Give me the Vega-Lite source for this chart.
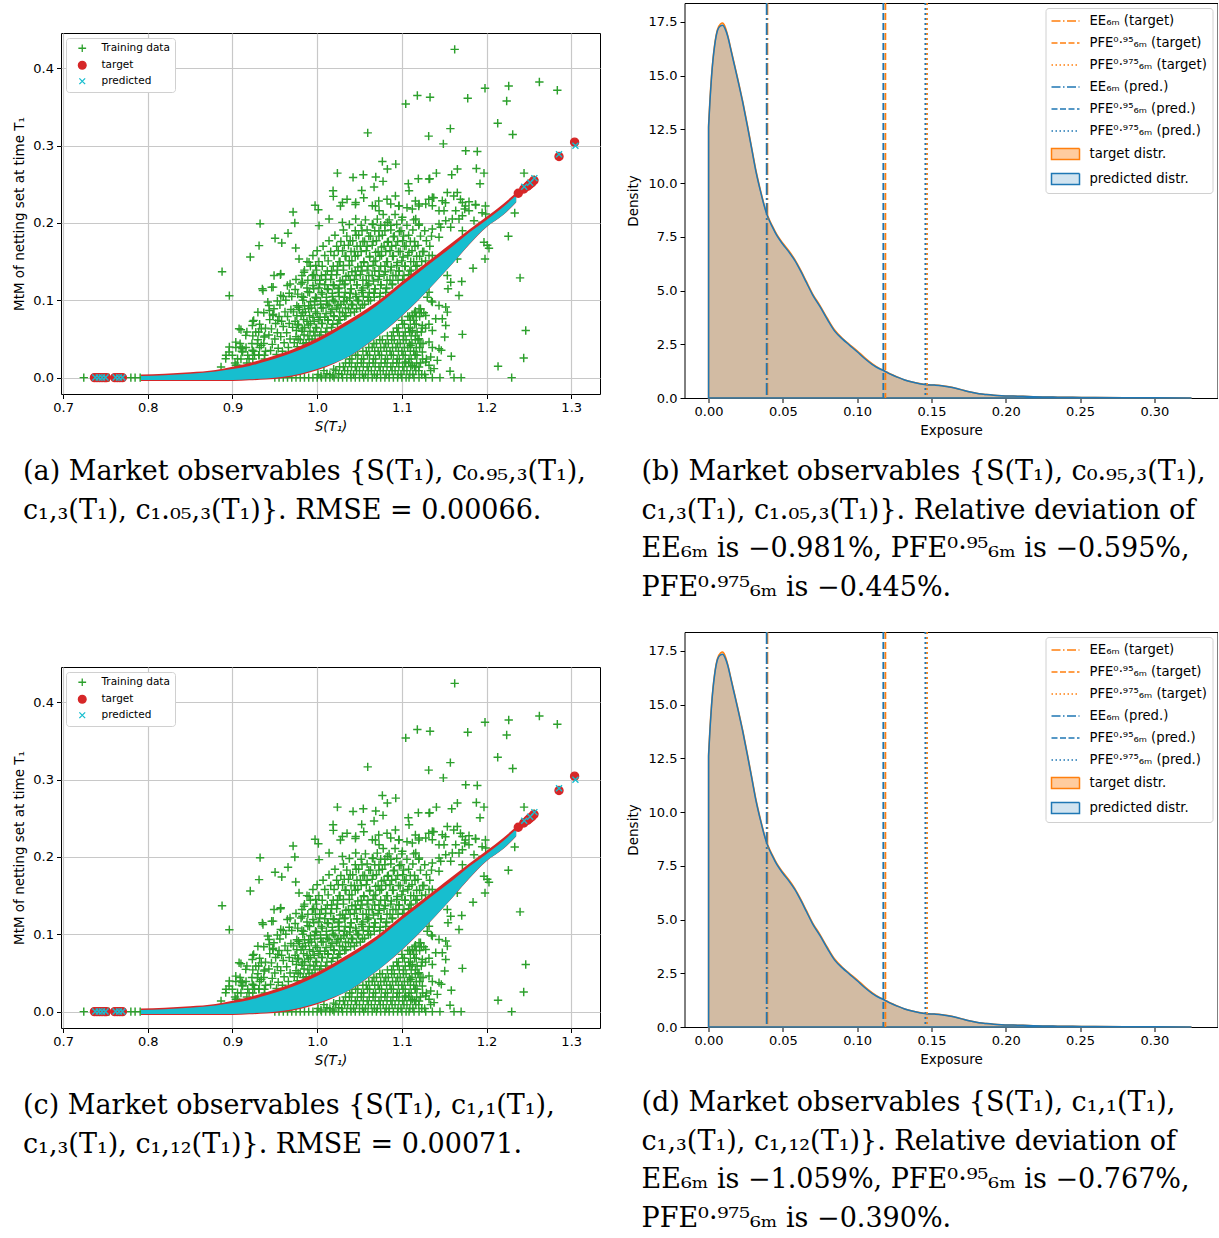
{
"$schema": "https://vega.github.io/schema/vega-lite/v6.json",
"background": "white",
"padding": {"left": 12, "top": 1, "right": 0, "bottom": 0},
"config": {
  "font": "DejaVu Sans",
  "view": {"stroke": "#000", "strokeWidth": 1},
  "axis": {"labelFont": "DejaVu Sans", "titleFont": "DejaVu Sans", "titleFontWeight": "normal", "domain": false, "tickColor": "#000", "tickWidth": 1, "labelColor": "#000", "titleColor": "#000"},
  "legend": {"labelFont": "DejaVu Sans", "labelColor": "#000"}
},
"datasets": {
  "train": [
{"x":0.945,"y":0.035},{"x":0.947,"y":0.043},{"x":0.943,"y":0.055},{"x":0.946,"y":0.063},{"x":0.944,"y":0.075},{"x":0.948,"y":0.082},
{"x":0.952,"y":0.030},{"x":0.954,"y":0.038},{"x":0.950,"y":0.050},{"x":0.953,"y":0.058},{"x":0.951,"y":0.070},{"x":0.955,"y":0.079},{"x":0.949,"y":0.089},{"x":0.953,"y":0.099},
{"x":0.959,"y":0.034},{"x":0.961,"y":0.045},{"x":0.957,"y":0.053},{"x":0.960,"y":0.066},{"x":0.958,"y":0.073},{"x":0.962,"y":0.085},{"x":0.956,"y":0.094},{"x":0.960,"y":0.105},
{"x":0.966,"y":0.039},{"x":0.968,"y":0.050},{"x":0.964,"y":0.058},{"x":0.967,"y":0.070},{"x":0.965,"y":0.079},{"x":0.969,"y":0.088},{"x":0.963,"y":0.100},{"x":0.967,"y":0.109},{"x":0.968,"y":0.121},
{"x":0.973,"y":0.045},{"x":0.975,"y":0.053},{"x":0.971,"y":0.065},{"x":0.974,"y":0.073},{"x":0.972,"y":0.085},{"x":0.976,"y":0.093},{"x":0.970,"y":0.105},{"x":0.974,"y":0.114},{"x":0.975,"y":0.127},
{"x":0.980,"y":0.049},{"x":0.982,"y":0.060},{"x":0.978,"y":0.068},{"x":0.981,"y":0.080},{"x":0.979,"y":0.088},{"x":0.983,"y":0.100},{"x":0.977,"y":0.108},{"x":0.981,"y":0.121},{"x":0.982,"y":0.132},
{"x":0.987,"y":0.045},{"x":0.989,"y":0.054},{"x":0.985,"y":0.065},{"x":0.988,"y":0.073},{"x":0.986,"y":0.085},{"x":0.990,"y":0.093},{"x":0.984,"y":0.104},{"x":0.988,"y":0.116},{"x":0.989,"y":0.126},{"x":0.985,"y":0.139},{"x":0.988,"y":0.150},
{"x":0.994,"y":0.050},{"x":0.996,"y":0.059},{"x":0.992,"y":0.070},{"x":0.995,"y":0.078},{"x":0.993,"y":0.090},{"x":0.997,"y":0.099},{"x":0.991,"y":0.110},{"x":0.995,"y":0.119},{"x":0.996,"y":0.133},{"x":0.992,"y":0.144},{"x":0.995,"y":0.158},
{"x":1.001,"y":0.004},{"x":1.003,"y":0.055},{"x":0.999,"y":0.064},{"x":1.002,"y":0.075},{"x":1.000,"y":0.083},{"x":1.004,"y":0.095},{"x":0.998,"y":0.104},{"x":1.002,"y":0.116},{"x":1.003,"y":0.126},{"x":0.999,"y":0.139},{"x":1.002,"y":0.150},{"x":1.000,"y":0.164},
{"x":1.008,"y":0.009},{"x":1.010,"y":0.059},{"x":1.006,"y":0.070},{"x":1.009,"y":0.078},{"x":1.007,"y":0.090},{"x":1.011,"y":0.099},{"x":1.005,"y":0.110},{"x":1.009,"y":0.120},{"x":1.010,"y":0.133},{"x":1.006,"y":0.144},{"x":1.009,"y":0.158},{"x":1.007,"y":0.170},
{"x":1.015,"y":0.004},{"x":1.017,"y":0.065},{"x":1.013,"y":0.074},{"x":1.016,"y":0.085},{"x":1.014,"y":0.093},{"x":1.018,"y":0.105},{"x":1.012,"y":0.115},{"x":1.016,"y":0.127},{"x":1.017,"y":0.138},{"x":1.013,"y":0.151},{"x":1.016,"y":0.163},{"x":1.014,"y":0.177},
{"x":1.022,"y":0.009},{"x":1.024,"y":0.070},{"x":1.020,"y":0.079},{"x":1.023,"y":0.090},{"x":1.021,"y":0.098},{"x":1.025,"y":0.110},{"x":1.019,"y":0.120},{"x":1.023,"y":0.133},{"x":1.024,"y":0.144},{"x":1.020,"y":0.158},{"x":1.023,"y":0.170},{"x":1.021,"y":0.184},
{"x":1.029,"y":0.004},{"x":1.031,"y":0.014},{"x":1.027,"y":0.075},{"x":1.030,"y":0.084},{"x":1.028,"y":0.095},{"x":1.032,"y":0.104},{"x":1.026,"y":0.116},{"x":1.030,"y":0.126},{"x":1.031,"y":0.139},{"x":1.027,"y":0.150},{"x":1.030,"y":0.164},{"x":1.028,"y":0.176},{"x":1.031,"y":0.191},
{"x":1.036,"y":0.009},{"x":1.038,"y":0.019},{"x":1.034,"y":0.080},{"x":1.037,"y":0.089},{"x":1.035,"y":0.100},{"x":1.039,"y":0.109},{"x":1.033,"y":0.121},{"x":1.037,"y":0.132},{"x":1.038,"y":0.145},{"x":1.034,"y":0.157},{"x":1.037,"y":0.171},{"x":1.035,"y":0.183},{"x":1.038,"y":0.198},
{"x":1.043,"y":0.004},{"x":1.045,"y":0.014},{"x":1.041,"y":0.024},{"x":1.044,"y":0.085},{"x":1.042,"y":0.094},{"x":1.046,"y":0.105},{"x":1.040,"y":0.115},{"x":1.044,"y":0.127},{"x":1.045,"y":0.138},{"x":1.041,"y":0.151},{"x":1.044,"y":0.163},{"x":1.042,"y":0.177},{"x":1.045,"y":0.190},
{"x":1.050,"y":0.009},{"x":1.052,"y":0.019},{"x":1.048,"y":0.029},{"x":1.051,"y":0.090},{"x":1.049,"y":0.099},{"x":1.053,"y":0.110},{"x":1.047,"y":0.120},{"x":1.051,"y":0.133},{"x":1.052,"y":0.144},{"x":1.048,"y":0.158},{"x":1.051,"y":0.170},{"x":1.049,"y":0.184},{"x":1.052,"y":0.197},
{"x":1.057,"y":0.004},{"x":1.059,"y":0.014},{"x":1.055,"y":0.024},{"x":1.058,"y":0.034},{"x":1.056,"y":0.095},{"x":1.060,"y":0.104},{"x":1.054,"y":0.116},{"x":1.058,"y":0.126},{"x":1.059,"y":0.139},{"x":1.055,"y":0.150},{"x":1.058,"y":0.164},{"x":1.056,"y":0.176},{"x":1.059,"y":0.191},{"x":1.057,"y":0.204},
{"x":1.064,"y":0.009},{"x":1.066,"y":0.019},{"x":1.062,"y":0.029},{"x":1.065,"y":0.039},{"x":1.063,"y":0.100},{"x":1.067,"y":0.109},{"x":1.061,"y":0.121},{"x":1.065,"y":0.132},{"x":1.066,"y":0.145},{"x":1.062,"y":0.157},{"x":1.065,"y":0.171},{"x":1.063,"y":0.183},{"x":1.066,"y":0.198},
{"x":1.071,"y":0.004},{"x":1.073,"y":0.014},{"x":1.069,"y":0.024},{"x":1.072,"y":0.034},{"x":1.070,"y":0.044},{"x":1.074,"y":0.105},{"x":1.068,"y":0.115},{"x":1.072,"y":0.127},{"x":1.073,"y":0.138},{"x":1.069,"y":0.151},{"x":1.072,"y":0.163},{"x":1.070,"y":0.177},{"x":1.073,"y":0.190},{"x":1.071,"y":0.205},
{"x":1.078,"y":0.009},{"x":1.080,"y":0.019},{"x":1.076,"y":0.029},{"x":1.079,"y":0.039},{"x":1.077,"y":0.049},{"x":1.081,"y":0.110},{"x":1.075,"y":0.120},{"x":1.079,"y":0.133},{"x":1.080,"y":0.144},{"x":1.076,"y":0.158},{"x":1.079,"y":0.170},{"x":1.077,"y":0.184},{"x":1.080,"y":0.197},{"x":1.078,"y":0.211},
{"x":1.085,"y":0.004},{"x":1.087,"y":0.014},{"x":1.083,"y":0.024},{"x":1.086,"y":0.034},{"x":1.084,"y":0.044},{"x":1.088,"y":0.054},{"x":1.082,"y":0.116},{"x":1.086,"y":0.126},{"x":1.087,"y":0.139},{"x":1.083,"y":0.150},{"x":1.086,"y":0.164},{"x":1.084,"y":0.176},{"x":1.087,"y":0.191},{"x":1.085,"y":0.204},
{"x":1.092,"y":0.009},{"x":1.094,"y":0.019},{"x":1.090,"y":0.029},{"x":1.093,"y":0.039},{"x":1.091,"y":0.049},{"x":1.095,"y":0.059},{"x":1.089,"y":0.121},{"x":1.093,"y":0.132},{"x":1.094,"y":0.145},{"x":1.090,"y":0.157},{"x":1.093,"y":0.171},{"x":1.091,"y":0.183},{"x":1.094,"y":0.198},{"x":1.092,"y":0.211},
{"x":1.099,"y":0.004},{"x":1.101,"y":0.014},{"x":1.097,"y":0.024},{"x":1.100,"y":0.034},{"x":1.098,"y":0.044},{"x":1.102,"y":0.054},{"x":1.096,"y":0.064},{"x":1.100,"y":0.074},{"x":1.101,"y":0.127},{"x":1.097,"y":0.138},{"x":1.100,"y":0.151},{"x":1.098,"y":0.163},{"x":1.101,"y":0.177},{"x":1.099,"y":0.190},{"x":1.100,"y":0.204},
{"x":1.106,"y":0.009},{"x":1.108,"y":0.019},{"x":1.104,"y":0.029},{"x":1.107,"y":0.039},{"x":1.105,"y":0.049},{"x":1.109,"y":0.059},{"x":1.103,"y":0.069},{"x":1.107,"y":0.079},{"x":1.108,"y":0.133},{"x":1.104,"y":0.144},{"x":1.107,"y":0.158},{"x":1.105,"y":0.170},{"x":1.108,"y":0.184},{"x":1.106,"y":0.197},
{"x":1.113,"y":0.004},{"x":1.115,"y":0.014},{"x":1.111,"y":0.024},{"x":1.114,"y":0.034},{"x":1.112,"y":0.044},{"x":1.116,"y":0.054},{"x":1.110,"y":0.064},{"x":1.114,"y":0.074},{"x":1.115,"y":0.084},{"x":1.111,"y":0.139},{"x":1.114,"y":0.150},{"x":1.112,"y":0.164},{"x":1.115,"y":0.176},{"x":1.113,"y":0.191},{"x":1.114,"y":0.204},
{"x":1.120,"y":0.009},{"x":1.122,"y":0.019},{"x":1.118,"y":0.029},{"x":1.121,"y":0.039},{"x":1.119,"y":0.049},{"x":1.123,"y":0.059},{"x":1.117,"y":0.069},{"x":1.121,"y":0.079},{"x":1.122,"y":0.089},{"x":1.118,"y":0.145},{"x":1.121,"y":0.157},{"x":1.119,"y":0.171},{"x":1.122,"y":0.183},{"x":1.120,"y":0.197},
{"x":1.127,"y":0.004},{"x":1.129,"y":0.024},{"x":1.125,"y":0.044},{"x":1.128,"y":0.064},{"x":1.126,"y":0.084},{"x":1.130,"y":0.104},{"x":1.128,"y":0.151},{"x":1.126,"y":0.163},{"x":1.129,"y":0.177},{"x":1.127,"y":0.190},
{"x":1.134,"y":0.009},{"x":1.136,"y":0.039},{"x":1.132,"y":0.069},{"x":1.135,"y":0.099},{"x":1.136,"y":0.158},{"x":1.133,"y":0.170},{"x":1.135,"y":0.183},
{"x":0.9765,"y":0.040},{"x":0.9775,"y":0.050},{"x":0.9755,"y":0.061},{"x":0.977,"y":0.069},{"x":0.976,"y":0.080},{"x":0.978,"y":0.091},
{"x":0.9835,"y":0.044},{"x":0.9845,"y":0.055},{"x":0.9825,"y":0.063},{"x":0.984,"y":0.075},{"x":0.983,"y":0.084},{"x":0.985,"y":0.093},{"x":0.982,"y":0.105},
{"x":0.9905,"y":0.049},{"x":0.9915,"y":0.060},{"x":0.9895,"y":0.068},{"x":0.991,"y":0.080},{"x":0.990,"y":0.089},{"x":0.992,"y":0.098},{"x":0.989,"y":0.111},
{"x":0.9975,"y":0.054},{"x":0.9985,"y":0.065},{"x":0.9965,"y":0.073},{"x":0.998,"y":0.085},{"x":0.997,"y":0.094},{"x":0.999,"y":0.103},{"x":0.996,"y":0.115},{"x":0.998,"y":0.126},
{"x":1.0045,"y":0.002},{"x":1.0045,"y":0.059},{"x":1.0055,"y":0.070},{"x":1.0035,"y":0.078},{"x":1.005,"y":0.090},{"x":1.004,"y":0.099},{"x":1.006,"y":0.108},{"x":1.003,"y":0.121},{"x":1.005,"y":0.132},
{"x":1.0115,"y":0.005},{"x":1.0115,"y":0.064},{"x":1.0125,"y":0.075},{"x":1.0105,"y":0.083},{"x":1.012,"y":0.095},{"x":1.011,"y":0.104},{"x":1.013,"y":0.114},{"x":1.010,"y":0.127},{"x":1.012,"y":0.138},
{"x":1.0185,"y":0.002},{"x":1.0195,"y":0.011},{"x":1.0185,"y":0.069},{"x":1.0195,"y":0.080},{"x":1.0175,"y":0.088},{"x":1.019,"y":0.100},{"x":1.018,"y":0.109},{"x":1.020,"y":0.119},{"x":1.017,"y":0.133},{"x":1.019,"y":0.144},
{"x":1.0255,"y":0.005},{"x":1.0265,"y":0.014},{"x":1.0255,"y":0.074},{"x":1.0265,"y":0.085},{"x":1.0245,"y":0.093},{"x":1.026,"y":0.105},{"x":1.025,"y":0.115},{"x":1.027,"y":0.125},{"x":1.024,"y":0.139},{"x":1.026,"y":0.150},{"x":1.025,"y":0.164},
{"x":1.0325,"y":0.009},{"x":1.0335,"y":0.019},{"x":1.0325,"y":0.079},{"x":1.0335,"y":0.090},{"x":1.0315,"y":0.098},{"x":1.033,"y":0.110},{"x":1.032,"y":0.120},{"x":1.034,"y":0.131},{"x":1.031,"y":0.145},{"x":1.033,"y":0.157},{"x":1.032,"y":0.171},
{"x":1.0395,"y":0.004},{"x":1.0405,"y":0.014},{"x":1.0385,"y":0.024},{"x":1.0395,"y":0.084},{"x":1.0405,"y":0.095},{"x":1.0385,"y":0.103},{"x":1.040,"y":0.115},{"x":1.039,"y":0.126},{"x":1.041,"y":0.137},{"x":1.038,"y":0.151},{"x":1.040,"y":0.163},{"x":1.039,"y":0.177},
{"x":1.0465,"y":0.009},{"x":1.0475,"y":0.019},{"x":1.0455,"y":0.029},{"x":1.0465,"y":0.089},{"x":1.0475,"y":0.100},{"x":1.0455,"y":0.108},{"x":1.047,"y":0.120},{"x":1.046,"y":0.132},{"x":1.048,"y":0.143},{"x":1.045,"y":0.157},{"x":1.047,"y":0.170},{"x":1.046,"y":0.184},
{"x":1.0535,"y":0.004},{"x":1.0545,"y":0.014},{"x":1.0525,"y":0.024},{"x":1.054,"y":0.034},{"x":1.0535,"y":0.094},{"x":1.0545,"y":0.105},{"x":1.0525,"y":0.113},{"x":1.054,"y":0.126},{"x":1.053,"y":0.138},{"x":1.055,"y":0.149},{"x":1.052,"y":0.163},{"x":1.054,"y":0.176},{"x":1.053,"y":0.190},
{"x":1.0605,"y":0.009},{"x":1.0615,"y":0.019},{"x":1.0595,"y":0.029},{"x":1.061,"y":0.039},{"x":1.0605,"y":0.099},{"x":1.0615,"y":0.110},{"x":1.0595,"y":0.119},{"x":1.061,"y":0.132},{"x":1.060,"y":0.144},{"x":1.062,"y":0.156},{"x":1.059,"y":0.170},{"x":1.061,"y":0.183},
{"x":1.0675,"y":0.004},{"x":1.0685,"y":0.014},{"x":1.0665,"y":0.024},{"x":1.068,"y":0.034},{"x":1.067,"y":0.044},{"x":1.0675,"y":0.104},{"x":1.0685,"y":0.115},{"x":1.0665,"y":0.125},{"x":1.068,"y":0.138},{"x":1.067,"y":0.150},{"x":1.069,"y":0.162},{"x":1.066,"y":0.176},{"x":1.068,"y":0.190},
{"x":1.0745,"y":0.009},{"x":1.0755,"y":0.019},{"x":1.0735,"y":0.029},{"x":1.075,"y":0.039},{"x":1.074,"y":0.049},{"x":1.0745,"y":0.109},{"x":1.0755,"y":0.120},{"x":1.0735,"y":0.131},{"x":1.075,"y":0.144},{"x":1.074,"y":0.157},{"x":1.076,"y":0.169},{"x":1.073,"y":0.183},{"x":1.075,"y":0.197},
{"x":1.0815,"y":0.004},{"x":1.0825,"y":0.014},{"x":1.0805,"y":0.024},{"x":1.082,"y":0.034},{"x":1.081,"y":0.044},{"x":1.083,"y":0.054},{"x":1.0815,"y":0.115},{"x":1.0825,"y":0.126},{"x":1.0805,"y":0.137},{"x":1.082,"y":0.150},{"x":1.081,"y":0.163},{"x":1.083,"y":0.175},{"x":1.080,"y":0.190},
{"x":1.0885,"y":0.009},{"x":1.0895,"y":0.019},{"x":1.0875,"y":0.029},{"x":1.089,"y":0.039},{"x":1.088,"y":0.049},{"x":1.090,"y":0.059},{"x":1.0885,"y":0.120},{"x":1.0895,"y":0.132},{"x":1.0875,"y":0.143},{"x":1.089,"y":0.157},{"x":1.088,"y":0.170},{"x":1.090,"y":0.182},{"x":1.087,"y":0.197},
{"x":1.0955,"y":0.004},{"x":1.0965,"y":0.014},{"x":1.0945,"y":0.024},{"x":1.096,"y":0.034},{"x":1.095,"y":0.044},{"x":1.097,"y":0.054},{"x":1.094,"y":0.064},{"x":1.0955,"y":0.126},{"x":1.0965,"y":0.138},{"x":1.0945,"y":0.149},{"x":1.096,"y":0.163},{"x":1.095,"y":0.176},{"x":1.097,"y":0.189},
{"x":1.1025,"y":0.009},{"x":1.1035,"y":0.019},{"x":1.1015,"y":0.029},{"x":1.103,"y":0.039},{"x":1.102,"y":0.049},{"x":1.104,"y":0.059},{"x":1.101,"y":0.069},{"x":1.1025,"y":0.132},{"x":1.1035,"y":0.144},{"x":1.1015,"y":0.156},{"x":1.103,"y":0.170},{"x":1.102,"y":0.183},
{"x":1.1095,"y":0.004},{"x":1.1105,"y":0.014},{"x":1.1085,"y":0.024},{"x":1.110,"y":0.034},{"x":1.109,"y":0.044},{"x":1.111,"y":0.054},{"x":1.108,"y":0.064},{"x":1.110,"y":0.074},{"x":1.109,"y":0.079},{"x":1.1095,"y":0.138},{"x":1.1105,"y":0.150},{"x":1.1085,"y":0.162},{"x":1.110,"y":0.176},
{"x":1.1165,"y":0.009},{"x":1.1175,"y":0.019},{"x":1.1155,"y":0.029},{"x":1.117,"y":0.039},{"x":1.116,"y":0.049},{"x":1.118,"y":0.059},{"x":1.115,"y":0.069},{"x":1.117,"y":0.079},{"x":1.116,"y":0.086},{"x":1.1165,"y":0.144},{"x":1.1175,"y":0.157},{"x":1.1155,"y":0.170},
{"x":1.1235,"y":0.004},{"x":1.1245,"y":0.024},{"x":1.1225,"y":0.044},{"x":1.124,"y":0.064},{"x":1.123,"y":0.084},{"x":1.1235,"y":0.150},{"x":1.1245,"y":0.163},
{"x":0.903,"y":0.019},{"x":0.904,"y":0.039},{"x":0.910,"y":0.024},{"x":0.911,"y":0.034},{"x":0.909,"y":0.044},
{"x":0.917,"y":0.019},{"x":0.918,"y":0.029},{"x":0.916,"y":0.039},{"x":0.917,"y":0.059},
{"x":0.924,"y":0.024},{"x":0.925,"y":0.034},{"x":0.923,"y":0.044},{"x":0.924,"y":0.054},{"x":0.925,"y":0.074},
{"x":0.931,"y":0.029},{"x":0.932,"y":0.039},{"x":0.930,"y":0.049},{"x":0.931,"y":0.059},{"x":0.932,"y":0.069},
{"x":0.938,"y":0.024},{"x":0.939,"y":0.034},{"x":0.937,"y":0.044},{"x":0.938,"y":0.054},{"x":0.939,"y":0.064},{"x":0.937,"y":0.084},
{"x":0.7244,"y":0},{"x":0.754,"y":0},{"x":0.78,"y":0},{"x":0.785,"y":0},{"x":0.791,"y":0},
{"x":0.95,"y":0},{"x":0.955,"y":0},{"x":0.96,"y":0},{"x":0.965,"y":0},{"x":0.97,"y":0},{"x":0.975,"y":0},{"x":0.98,"y":0},{"x":0.985,"y":0},{"x":0.99,"y":0},{"x":0.995,"y":0},{"x":1.0,"y":0},{"x":1.005,"y":0},{"x":1.01,"y":0},{"x":1.015,"y":0},{"x":1.02,"y":0},{"x":1.025,"y":0},{"x":1.03,"y":0},{"x":1.035,"y":0},{"x":1.04,"y":0},{"x":1.045,"y":0},{"x":1.05,"y":0},{"x":1.055,"y":0},{"x":1.06,"y":0},{"x":1.065,"y":0},{"x":1.07,"y":0},{"x":1.075,"y":0},{"x":1.08,"y":0},{"x":1.085,"y":0},{"x":1.09,"y":0},{"x":1.095,"y":0},{"x":1.1,"y":0},{"x":1.105,"y":0},
{"x":1.1085,"y":0},{"x":1.1144,"y":0},{"x":1.1203,"y":0},{"x":1.1282,"y":0},{"x":1.136,"y":0},{"x":1.145,"y":0},{"x":1.1616,"y":0},{"x":1.17,"y":0},{"x":1.2297,"y":0},
{"x":0.8877,"y":0.137},{"x":0.8963,"y":0.106},{"x":0.921,"y":0.156},{"x":0.8865,"y":0.0138},{"x":0.904,"y":0.016},{"x":0.8924,"y":0.0288},{"x":0.8963,"y":0.0396},{"x":0.91,"y":0.0396},{"x":0.912,"y":0.033},{"x":0.906,"y":0.0245},{"x":0.91,"y":0.062},{"x":0.924,"y":0.0727},{"x":0.93,"y":0.0846},{"x":0.934,"y":0.063},{"x":0.936,"y":0.1126},{"x":0.948,"y":0.117},{"x":0.9566,"y":0.133},{"x":0.9417,"y":0.0977},{"x":0.9436,"y":0.0868},{"x":0.9476,"y":0.0804},{"x":0.9535,"y":0.074},{"x":0.934,"y":0.0417},{"x":0.9377,"y":0.0288},{"x":0.926,"y":0.0288},
{"x":1.1624,"y":0.4245},{"x":1.1046,"y":0.354},{"x":1.1183,"y":0.3648},{"x":1.1333,"y":0.3626},{"x":1.1778,"y":0.3613},{"x":1.1982,"y":0.3742},{"x":1.2262,"y":0.3772},{"x":1.2238,"y":0.3578},{"x":1.2624,"y":0.3823},{"x":1.2836,"y":0.3716},{"x":1.0597,"y":0.3165},{"x":1.1317,"y":0.3123},{"x":1.1573,"y":0.322},{"x":1.149,"y":0.3023},{"x":1.2132,"y":0.329},{"x":1.2309,"y":0.3144},{"x":1.1754,"y":0.2933},{"x":1.1891,"y":0.2925},{"x":1.077,"y":0.2795},{"x":1.0928,"y":0.2761},{"x":1.0829,"y":0.2697},{"x":1.0239,"y":0.2645},{"x":1.0424,"y":0.2589},{"x":1.0545,"y":0.2623},{"x":1.0692,"y":0.2594},{"x":1.0778,"y":0.2538},{"x":1.0672,"y":0.2465},{"x":1.1077,"y":0.2508},{"x":1.1195,"y":0.2572},{"x":1.1329,"y":0.2572},{"x":1.1408,"y":0.2645},{"x":1.1656,"y":0.2697},{"x":1.1589,"y":0.2623},{"x":1.188,"y":0.2705},{"x":1.197,"y":0.2645},{"x":1.1923,"y":0.2508},{"x":1.2443,"y":0.2645},{"x":1.2562,"y":0.2559},{"x":1.2333,"y":0.2129},{"x":1.0188,"y":0.2417},{"x":1.0526,"y":0.2421},{"x":1.0191,"y":0.2344},{"x":0.9975,"y":0.2228},{"x":1.0014,"y":0.2172},{"x":0.9716,"y":0.2142},{"x":0.9736,"y":0.2},{"x":0.9326,"y":0.1991},
{"x":1.2258,"y":0.1828},{"x":1.2029,"y":0.1673},{"x":1.1982,"y":0.1535},{"x":1.2009,"y":0.1712},{"x":1.1841,"y":0.1414},{"x":1.2396,"y":0.129},{"x":1.1707,"y":0.1243},{"x":1.1675,"y":0.1062},{"x":1.1545,"y":0.1148},{"x":1.1518,"y":0.0912},{"x":1.1537,"y":0.0847},{"x":1.2463,"y":0.061},{"x":1.1715,"y":0.0559},{"x":1.1506,"y":0.0525},{"x":1.1466,"y":0.0353},{"x":1.1584,"y":0.0275},{"x":1.1341,"y":0.0266},{"x":1.1321,"y":0.0159},{"x":1.138,"y":0.0116},{"x":1.1569,"y":0.0082},{"x":1.2439,"y":0.0254},{"x":1.2136,"y":0.0146},
{"x":1.1537,"y":0.2393},{"x":1.1655,"y":0.2393},{"x":1.1321,"y":0.2568},{"x":1.1085,"y":0.2417},{"x":1.136,"y":0.233},{"x":1.1282,"y":0.2245},{"x":1.1439,"y":0.2159},{"x":1.1498,"y":0.2159},{"x":1.1636,"y":0.2159},{"x":1.1742,"y":0.2181},{"x":1.1793,"y":0.2275},{"x":1.1872,"y":0.2232},{"x":1.1675,"y":0.2052},{"x":1.1715,"y":0.2094},{"x":1.199,"y":0.2116},{"x":1.1518,"y":0.203},{"x":1.1577,"y":0.1944},{"x":1.1459,"y":0.1944},{"x":1.1439,"y":0.1815},{"x":1.1715,"y":0.19},{"x":1.136,"y":0.1923},{"x":1.1203,"y":0.1987},{"x":1.1852,"y":0.203},{"x":1.1872,"y":0.1923},{"x":1.197,"y":0.175},{"x":1.1912,"y":0.1966},{"x":1.1596,"y":0.1621},{"x":1.1655,"y":0.1535},{"x":1.1478,"y":0.1578},{"x":1.1518,"y":0.1492},{"x":1.14,"y":0.1449},{"x":1.1321,"y":0.1578},{"x":1.1301,"y":0.1428},{"x":1.1537,"y":0.132},{"x":1.1577,"y":0.1234},
{"x":1.1321,"y":0.1105},{"x":1.136,"y":0.0976},{"x":1.1439,"y":0.0933},{"x":1.1203,"y":0.089},{"x":1.1124,"y":0.0804},{"x":1.1282,"y":0.0804},{"x":1.14,"y":0.0761},{"x":1.1478,"y":0.0761},{"x":1.1518,"y":0.0675},{"x":1.1242,"y":0.0675},{"x":1.136,"y":0.061},{"x":1.1124,"y":0.061},{"x":1.1203,"y":0.0503},{"x":1.1321,"y":0.046},{"x":1.1104,"y":0.0417},{"x":1.1164,"y":0.0288},{"x":1.1242,"y":0.033},{"x":1.1439,"y":0.0374},{"x":1.1124,"y":0.0159},{"x":1.1203,"y":0.0138},{"x":1.1046,"y":0.0201},{"x":1.1282,"y":0.0201},{"x":1.1419,"y":0.0223},
{"x":0.9503,"y":0.1802},{"x":0.9582,"y":0.1742},{"x":0.9656,"y":0.1867},{"x":0.9747,"y":0.1677},{"x":0.9314,"y":0.1707},{"x":0.9491,"y":0.132},{"x":0.957,"y":0.1342},{"x":0.9353,"y":0.1148},{"x":0.9463,"y":0.1169},{"x":0.9648,"y":0.1191},{"x":0.9432,"y":0.0933},{"x":0.957,"y":0.1062},{"x":0.9786,"y":0.1535},{"x":0.9904,"y":0.1492},{"x":0.9845,"y":0.1363},{"x":0.9983,"y":0.1449},{"x":0.9943,"y":0.132},{"x":0.9825,"y":0.1234},
{"x":1.0298,"y":0.2266},{"x":1.0455,"y":0.2266},{"x":1.0652,"y":0.2224},{"x":1.0731,"y":0.2159},{"x":1.0869,"y":0.2245},{"x":1.0967,"y":0.2224},{"x":1.1124,"y":0.2181},{"x":1.1203,"y":0.2245},{"x":1.136,"y":0.2224},{"x":1.1478,"y":0.2288},{"x":1.1715,"y":0.2266},{"x":1.1793,"y":0.2159},{"x":1.1596,"y":0.2052},{"x":1.1439,"y":0.1987},{"x":1.1164,"y":0.2052},{"x":1.1006,"y":0.2073},{"x":1.0829,"y":0.2008},{"x":1.0652,"y":0.1987},{"x":1.0455,"y":0.2052},{"x":1.0298,"y":0.2008},{"x":1.0141,"y":0.2052},{"x":1.0022,"y":0.1966},
{"x":1.0275,"y":0.222},{"x":1.0353,"y":0.2306},{"x":1.0452,"y":0.224},{"x":1.055,"y":0.2326},{"x":1.0688,"y":0.222},{"x":1.0727,"y":0.2284},{"x":1.0825,"y":0.2306},{"x":1.0924,"y":0.2349},{"x":1.0963,"y":0.222},{"x":1.1061,"y":0.2198},{"x":1.116,"y":0.2284},{"x":1.12,"y":0.222},{"x":1.1318,"y":0.2306},{"x":1.1377,"y":0.2326},{"x":1.1515,"y":0.2262},{"x":1.1613,"y":0.2349},{"x":1.1692,"y":0.2306},{"x":1.1751,"y":0.222},{"x":1.1869,"y":0.224},{"x":1.1948,"y":0.2133},{"x":1.1987,"y":0.222},
{"x":0.9078,"y":0.0632},{"x":0.9157,"y":0.0546},{"x":0.9235,"y":0.0675},{"x":0.9275,"y":0.0589},{"x":0.9039,"y":0.0459},{"x":0.9117,"y":0.0374},{"x":0.896,"y":0.033},{"x":0.8999,"y":0.0288},{"x":0.892,"y":0.0245},{"x":0.9058,"y":0.0159},{"x":0.9235,"y":0.0353},{"x":0.9294,"y":0.0439},{"x":0.9373,"y":0.0525},{"x":0.9196,"y":0.0245},{"x":0.9314,"y":0.0288}
  ],
  "band": [
{"x":0.792,"pl":-0.003,"pu":0.002,"tl":-0.0045,"tu":0.004},
{"x":0.82,"pl":-0.003,"pu":0.003,"tl":-0.0045,"tu":0.005},
{"x":0.85,"pl":-0.003,"pu":0.005,"tl":-0.0045,"tu":0.007},
{"x":0.88,"pl":-0.003,"pu":0.008,"tl":-0.0045,"tu":0.010},
{"x":0.90,"pl":-0.003,"pu":0.011,"tl":-0.0045,"tu":0.014},
{"x":0.92,"pl":-0.002,"pu":0.015,"tl":-0.0035,"tu":0.019},
{"x":0.94,"pl":-0.001,"pu":0.021,"tl":-0.0025,"tu":0.025},
{"x":0.96,"pl":0.001,"pu":0.028,"tl":-0.0005,"tu":0.032},
{"x":0.98,"pl":0.005,"pu":0.036,"tl":0.0035,"tu":0.041},
{"x":1.00,"pl":0.011,"pu":0.046,"tl":0.0095,"tu":0.051},
{"x":1.02,"pl":0.019,"pu":0.058,"tl":0.018,"tu":0.063},
{"x":1.04,"pl":0.029,"pu":0.071,"tl":0.0285,"tu":0.076},
{"x":1.06,"pl":0.044,"pu":0.085,"tl":0.0435,"tu":0.090},
{"x":1.08,"pl":0.061,"pu":0.101,"tl":0.0605,"tu":0.106},
{"x":1.10,"pl":0.080,"pu":0.119,"tl":0.0795,"tu":0.124},
{"x":1.12,"pl":0.101,"pu":0.136,"tl":0.1005,"tu":0.141},
{"x":1.14,"pl":0.124,"pu":0.153,"tl":0.1235,"tu":0.158},
{"x":1.16,"pl":0.148,"pu":0.170,"tl":0.1475,"tu":0.175},
{"x":1.18,"pl":0.173,"pu":0.188,"tl":0.1725,"tu":0.192},
{"x":1.20,"pl":0.195,"pu":0.204,"tl":0.1945,"tu":0.208},
{"x":1.22,"pl":0.211,"pu":0.221,"tl":0.2105,"tu":0.225},
{"x":1.235,"pl":0.227,"pu":0.236,"tl":0.2265,"tu":0.239}
  ],
  "tdot": [
{"x":0.737,"y":0},{"x":0.740,"y":0},{"x":0.743,"y":0},{"x":0.746,"y":0},{"x":0.749,"y":0},{"x":0.751,"y":0},{"x":0.761,"y":0},{"x":0.764,"y":0},{"x":0.767,"y":0},{"x":0.770,"y":0},
{"x":1.2375,"y":0.2385},{"x":1.244,"y":0.244},{"x":1.2485,"y":0.2475},{"x":1.251,"y":0.25},{"x":1.2535,"y":0.252},{"x":1.256,"y":0.255},{"x":1.2856,"y":0.286},{"x":1.304,"y":0.3045}
  ],
  "pdot": [
{"x":0.738,"y":0},{"x":0.742,"y":0},{"x":0.746,"y":0},{"x":0.750,"y":0},{"x":0.762,"y":0},{"x":0.766,"y":0},{"x":0.770,"y":0},
{"x":1.2445,"y":0.247},{"x":1.2515,"y":0.252},{"x":1.2565,"y":0.258},{"x":1.2856,"y":0.289},{"x":1.305,"y":0.300}
  ],
  "dens": [
{"x":0,"t":12.7,"p":12.6},{"x":0.001,"t":14.0,"p":13.9},{"x":0.002,"t":15.0,"p":14.95},{"x":0.003,"t":15.8,"p":15.75},{"x":0.004,"t":16.4,"p":16.35},{"x":0.005,"t":16.85,"p":16.8},{"x":0.006,"t":17.15,"p":17.1},{"x":0.008,"t":17.4,"p":17.32},{"x":0.0095,"t":17.45,"p":17.35},{"x":0.011,"t":17.3,"p":17.2},{"x":0.013,"t":16.85,"p":16.8},{"x":0.015,"t":16.25,"p":16.2},{"x":0.017,"t":15.65,"p":15.6},{"x":0.020,"t":14.75,"p":14.7},{"x":0.023,"t":13.8,"p":13.75},{"x":0.026,"t":12.75,"p":12.7},{"x":0.029,"t":11.65,"p":11.6},{"x":0.032,"t":10.55,"p":10.5},{"x":0.035,"t":9.65,"p":9.6},{"x":0.038,"t":8.85,"p":8.8},{"x":0.040,"t":8.45,"p":8.4},{"x":0.043,"t":8.0,"p":7.95},{"x":0.046,"t":7.6,"p":7.55},{"x":0.050,"t":7.2,"p":7.15},{"x":0.054,"t":6.85,"p":6.8},{"x":0.058,"t":6.45,"p":6.4},{"x":0.062,"t":5.95,"p":5.9},{"x":0.066,"t":5.4,"p":5.35},{"x":0.070,"t":4.85,"p":4.8},{"x":0.075,"t":4.3,"p":4.25},{"x":0.080,"t":3.7,"p":3.65},{"x":0.085,"t":3.15,"p":3.1},{"x":0.090,"t":2.78,"p":2.75},{"x":0.095,"t":2.48,"p":2.45},{"x":0.100,"t":2.2,"p":2.15},{"x":0.105,"t":1.88,"p":1.84},{"x":0.110,"t":1.6,"p":1.57},{"x":0.115,"t":1.38,"p":1.36},{"x":0.118,"t":1.28,"p":1.27},{"x":0.122,"t":1.13,"p":1.12},{"x":0.127,"t":0.98,"p":0.97},{"x":0.132,"t":0.84,"p":0.84},{"x":0.137,"t":0.74,"p":0.74},{"x":0.142,"t":0.67,"p":0.66},{"x":0.147,"t":0.62,"p":0.62},{"x":0.152,"t":0.6,"p":0.6},{"x":0.157,"t":0.57,"p":0.57},{"x":0.162,"t":0.52,"p":0.51},{"x":0.167,"t":0.44,"p":0.44},{"x":0.172,"t":0.35,"p":0.35},{"x":0.177,"t":0.27,"p":0.27},{"x":0.182,"t":0.2,"p":0.2},{"x":0.187,"t":0.16,"p":0.16},{"x":0.192,"t":0.13,"p":0.13},{"x":0.197,"t":0.11,"p":0.11},{"x":0.205,"t":0.09,"p":0.09},{"x":0.215,"t":0.07,"p":0.07},{"x":0.225,"t":0.05,"p":0.05},{"x":0.235,"t":0.04,"p":0.04},{"x":0.245,"t":0.03,"p":0.03},{"x":0.26,"t":0.02,"p":0.02},{"x":0.28,"t":0.012,"p":0.012},{"x":0.30,"t":0.006,"p":0.006},{"x":0.325,"t":0.0,"p":0.0}
  ],
  "vl": [
{"x":0.0396,"s":"EE₆ₘ (target)"},{"x":0.1190,"s":"PFE⁰·⁹⁵₆ₘ (target)"},{"x":0.1470,"s":"PFE⁰·⁹⁷⁵₆ₘ (target)"},
{"x":0.0391,"s":"EE₆ₘ (pred.)"},{"x":0.1176,"s":"PFE⁰·⁹⁵₆ₘ (pred.)"},{"x":0.1459,"s":"PFE⁰·⁹⁷⁵₆ₘ (pred.)"}
  ]
},
"spacing": 24.5,
"resolve": {"scale": {"color": "independent", "fill": "independent", "stroke": "independent", "shape": "independent", "strokeDash": "independent"}},
"hconcat": [
 {
  "spacing": 141,
  "resolve": {"scale": {"color": "independent", "fill": "independent", "stroke": "independent", "shape": "independent", "strokeDash": "independent"}},
  "vconcat": [
   {
    "spacing": 10,
    "resolve": {"scale": {"color": "independent", "fill": "independent", "stroke": "independent", "shape": "independent", "strokeDash": "independent"}},
    "vconcat": [
   {"width": 539, "height": 18, "view": {"stroke": "white", "fill": "white"}, "data": {"values": []}, "mark": "point"},
   {
    "width": 539, "height": 361,
    "title": {"text": ["(a) Market observables {S(T₁), c₀.₉₅,₃(T₁),", "c₁,₃(T₁), c₁.₀₅,₃(T₁)}. RMSE = 0.00066."], "orient": "bottom", "anchor": "start", "frame": "group", "dx": -38, "offset": 26, "font": "DejaVu Serif", "fontSize": 27, "fontWeight": "normal", "lineHeight": 39, "color": "#000"},
    "layer": [
     {"data": {"name": "train"}, "mark": {"type": "point", "filled": true, "size": 70, "strokeWidth": 1.45, "opacity": 1},
      "encoding": {
       "x": {"field": "x", "type": "quantitative", "scale": {"domain": [0.6975, 1.334], "nice": false, "zero": false}, "axis": {"title": "S(T₁)", "titleFontStyle": "italic", "values": [0.7,0.8,0.9,1.0,1.1,1.2,1.3], "format": ".1f", "grid": true, "gridColor": "#c8c8c8", "gridWidth": 1.2, "labelFontSize": 13, "titleFontSize": 13.5, "tickSize": 4.5, "labelPadding": 3, "titlePadding": 5}},
       "y": {"field": "y", "type": "quantitative", "scale": {"domain": [-0.0212, 0.4457], "nice": false, "zero": false}, "axis": {"title": "MtM of netting set at time T₁", "values": [0,0.1,0.2,0.3,0.4], "format": ".1f", "grid": true, "gridColor": "#c8c8c8", "gridWidth": 1.2, "labelFontSize": 13, "titleFontSize": 13.5, "tickSize": 4.5, "labelPadding": 3, "titlePadding": 6}},
       "fill": {"datum": "Training data", "type": "nominal", "scale": {"domain": ["Training data","target","predicted"], "range": ["#2ca02c","#d62728","#17becf"]}, "legend": {"title": null, "orient": "top-left", "offset": 5, "padding": 5, "fillColor": "white", "strokeColor": "#d0d0d0", "cornerRadius": 3, "labelFontSize": 10.5, "symbolSize": 60, "symbolStrokeWidth": 1.3, "rowPadding": 3, "labelOffset": 14, "symbolOffset": 6}},
       "stroke": {"datum": "Training data", "type": "nominal", "scale": {"domain": ["Training data","target","predicted"], "range": ["#2ca02c","#d62728","#17becf"]}, "legend": {"title": null, "orient": "top-left", "offset": 5, "padding": 5, "fillColor": "white", "strokeColor": "#d0d0d0", "cornerRadius": 3, "labelFontSize": 10.5, "symbolSize": 60, "symbolStrokeWidth": 1.3, "rowPadding": 3, "labelOffset": 14, "symbolOffset": 6}},
       "shape": {"datum": "Training data", "type": "nominal", "scale": {"domain": ["Training data","target","predicted"], "range": ["M-1,0L1,0M0,-1L0,1", "circle", "M-0.75,-0.75L0.75,0.75M-0.75,0.75L0.75,-0.75"]}, "legend": {"title": null, "orient": "top-left", "offset": 5, "padding": 5, "fillColor": "white", "strokeColor": "#d0d0d0", "cornerRadius": 3, "labelFontSize": 10.5, "symbolSize": 60, "symbolStrokeWidth": 1.3, "rowPadding": 3, "labelOffset": 14, "symbolOffset": 6}}
      }},
     {"data": {"name": "band"}, "mark": {"type": "area", "color": "#d62728", "interpolate": "monotone"}, "encoding": {"x": {"field": "x", "type": "quantitative"}, "y": {"field": "tu", "type": "quantitative"}, "y2": {"field": "tl"}}},
     {"data": {"name": "band"}, "mark": {"type": "area", "color": "#17becf", "interpolate": "monotone"}, "encoding": {"x": {"field": "x", "type": "quantitative"}, "y": {"field": "pu", "type": "quantitative"}, "y2": {"field": "pl"}}},
     {"data": {"name": "tdot"}, "mark": {"type": "point", "filled": true, "size": 64, "strokeWidth": 1.4, "opacity": 1},
      "encoding": {"x": {"field": "x", "type": "quantitative"}, "y": {"field": "y", "type": "quantitative"}, "fill": {"datum": "target", "type": "nominal"}, "stroke": {"datum": "target", "type": "nominal"}, "shape": {"datum": "target", "type": "nominal"}}},
     {"data": {"name": "pdot"}, "mark": {"type": "point", "filled": true, "size": 64, "strokeWidth": 1.4, "opacity": 1},
      "encoding": {"x": {"field": "x", "type": "quantitative"}, "y": {"field": "y", "type": "quantitative"}, "fill": {"datum": "predicted", "type": "nominal"}, "stroke": {"datum": "predicted", "type": "nominal"}, "shape": {"datum": "predicted", "type": "nominal"}}}
    ]
   }
    ]
   },
   {
    "width": 539, "height": 361,
    "title": {"text": ["(c) Market observables {S(T₁), c₁,₁(T₁),", "c₁,₃(T₁), c₁,₁₂(T₁)}. RMSE = 0.00071."], "orient": "bottom", "anchor": "start", "frame": "group", "dx": -38, "offset": 26, "font": "DejaVu Serif", "fontSize": 27, "fontWeight": "normal", "lineHeight": 39, "color": "#000"},
    "layer": [
     {"data": {"name": "train"}, "mark": {"type": "point", "filled": true, "size": 70, "strokeWidth": 1.45, "opacity": 1},
      "encoding": {
       "x": {"field": "x", "type": "quantitative", "scale": {"domain": [0.6975, 1.334], "nice": false, "zero": false}, "axis": {"title": "S(T₁)", "titleFontStyle": "italic", "values": [0.7,0.8,0.9,1.0,1.1,1.2,1.3], "format": ".1f", "grid": true, "gridColor": "#c8c8c8", "gridWidth": 1.2, "labelFontSize": 13, "titleFontSize": 13.5, "tickSize": 4.5, "labelPadding": 3, "titlePadding": 5}},
       "y": {"field": "y", "type": "quantitative", "scale": {"domain": [-0.0212, 0.4457], "nice": false, "zero": false}, "axis": {"title": "MtM of netting set at time T₁", "values": [0,0.1,0.2,0.3,0.4], "format": ".1f", "grid": true, "gridColor": "#c8c8c8", "gridWidth": 1.2, "labelFontSize": 13, "titleFontSize": 13.5, "tickSize": 4.5, "labelPadding": 3, "titlePadding": 6}},
       "fill": {"datum": "Training data", "type": "nominal", "scale": {"domain": ["Training data","target","predicted"], "range": ["#2ca02c","#d62728","#17becf"]}, "legend": {"title": null, "orient": "top-left", "offset": 5, "padding": 5, "fillColor": "white", "strokeColor": "#d0d0d0", "cornerRadius": 3, "labelFontSize": 10.5, "symbolSize": 60, "symbolStrokeWidth": 1.3, "rowPadding": 3, "labelOffset": 14, "symbolOffset": 6}},
       "stroke": {"datum": "Training data", "type": "nominal", "scale": {"domain": ["Training data","target","predicted"], "range": ["#2ca02c","#d62728","#17becf"]}, "legend": {"title": null, "orient": "top-left", "offset": 5, "padding": 5, "fillColor": "white", "strokeColor": "#d0d0d0", "cornerRadius": 3, "labelFontSize": 10.5, "symbolSize": 60, "symbolStrokeWidth": 1.3, "rowPadding": 3, "labelOffset": 14, "symbolOffset": 6}},
       "shape": {"datum": "Training data", "type": "nominal", "scale": {"domain": ["Training data","target","predicted"], "range": ["M-1,0L1,0M0,-1L0,1", "circle", "M-0.75,-0.75L0.75,0.75M-0.75,0.75L0.75,-0.75"]}, "legend": {"title": null, "orient": "top-left", "offset": 5, "padding": 5, "fillColor": "white", "strokeColor": "#d0d0d0", "cornerRadius": 3, "labelFontSize": 10.5, "symbolSize": 60, "symbolStrokeWidth": 1.3, "rowPadding": 3, "labelOffset": 14, "symbolOffset": 6}}
      }},
     {"data": {"name": "band"}, "mark": {"type": "area", "color": "#d62728", "interpolate": "monotone"}, "encoding": {"x": {"field": "x", "type": "quantitative"}, "y": {"field": "tu", "type": "quantitative"}, "y2": {"field": "tl"}}},
     {"data": {"name": "band"}, "mark": {"type": "area", "color": "#17becf", "interpolate": "monotone"}, "encoding": {"x": {"field": "x", "type": "quantitative"}, "y": {"field": "pu", "type": "quantitative"}, "y2": {"field": "pl"}}},
     {"data": {"name": "tdot"}, "mark": {"type": "point", "filled": true, "size": 64, "strokeWidth": 1.4, "opacity": 1},
      "encoding": {"x": {"field": "x", "type": "quantitative"}, "y": {"field": "y", "type": "quantitative"}, "fill": {"datum": "target", "type": "nominal"}, "stroke": {"datum": "target", "type": "nominal"}, "shape": {"datum": "target", "type": "nominal"}}},
     {"data": {"name": "pdot"}, "mark": {"type": "point", "filled": true, "size": 64, "strokeWidth": 1.4, "opacity": 1},
      "encoding": {"x": {"field": "x", "type": "quantitative"}, "y": {"field": "y", "type": "quantitative"}, "fill": {"datum": "predicted", "type": "nominal"}, "stroke": {"datum": "predicted", "type": "nominal"}, "shape": {"datum": "predicted", "type": "nominal"}}}
    ]
   }
  ]
 },
 {
  "spacing": 28,
  "resolve": {"scale": {"color": "independent", "fill": "independent", "stroke": "independent", "shape": "independent", "strokeDash": "independent"}},
  "vconcat": [
   {
    "width": 533, "height": 395,
    "title": {"text": ["(b) Market observables {S(T₁), c₀.₉₅,₃(T₁),", "c₁,₃(T₁), c₁.₀₅,₃(T₁)}. Relative deviation of", "EE₆ₘ is −0.981%, PFE⁰·⁹⁵₆ₘ is −0.595%,", "PFE⁰·⁹⁷⁵₆ₘ is −0.445%."], "orient": "bottom", "anchor": "start", "frame": "group", "dx": -43, "offset": 22, "font": "DejaVu Serif", "fontSize": 27, "fontWeight": "normal", "lineHeight": 38.7, "color": "#000"},
    "layer": [
     {"data": {"name": "dens"}, "mark": {"type": "area", "fill": "#ff7f0e", "fillOpacity": 0.4, "stroke": "#ff7f0e", "strokeWidth": 1.5, "interpolate": "monotone"},
      "encoding": {
       "x": {"field": "x", "type": "quantitative", "scale": {"domain": [-0.0162, 0.3425], "nice": false, "zero": false}, "axis": {"title": "Exposure", "values": [0,0.05,0.1,0.15,0.2,0.25,0.3], "format": ".2f", "labelFontSize": 13, "titleFontSize": 13.5, "tickSize": 4.5, "labelPadding": 3, "titlePadding": 5, "grid": false}},
       "y": {"field": "t", "type": "quantitative", "scale": {"domain": [0, 18.38], "nice": false}, "axis": {"title": "Density", "values": [0,2.5,5,7.5,10,12.5,15,17.5], "format": ".1f", "labelFontSize": 13, "titleFontSize": 13.5, "tickSize": 4.5, "labelPadding": 3, "titlePadding": 8, "grid": false}}
      }},
     {"data": {"name": "dens"}, "mark": {"type": "area", "fill": "#1f77b4", "fillOpacity": 0.2, "stroke": "#1f77b4", "strokeWidth": 1.5, "interpolate": "monotone"},
      "encoding": {"x": {"field": "x", "type": "quantitative"}, "y": {"field": "p", "type": "quantitative"}}},
     {"data": {"name": "vl"}, "mark": {"type": "rule", "strokeWidth": 1.8},
      "encoding": {
       "x": {"field": "x", "type": "quantitative"},
       "color": {"field": "s", "type": "nominal", "scale": {"domain": ["EE₆ₘ (target)","PFE⁰·⁹⁵₆ₘ (target)","PFE⁰·⁹⁷⁵₆ₘ (target)","EE₆ₘ (pred.)","PFE⁰·⁹⁵₆ₘ (pred.)","PFE⁰·⁹⁷⁵₆ₘ (pred.)","target distr.","predicted distr."], "range": ["#ff7f0e","#ff7f0e","#ff7f0e","#1f77b4","#1f77b4","#1f77b4","#ff7f0e","#1f77b4"]},
        "legend": {"title": null, "orient": "top-right", "offset": 5, "padding": 5, "fillColor": "white", "strokeColor": "#d0d0d0", "cornerRadius": 3, "labelFontSize": 13.2, "symbolSize": 196, "symbolStrokeWidth": 1.5, "symbolOffset": 7, "labelOffset": 16, "rowPadding": 7,
         "encode": {"symbols": {"update": {
           "shape": {"signal": "indexof(datum.value, 'distr') >= 0 ? 'M-2,-0.8H2V0.8H-2Z' : 'M-2,0H2'"},
           "stroke": {"signal": "indexof(datum.value, 'target') >= 0 ? '#ff7f0e' : '#1f77b4'"},
           "fill": {"signal": "indexof(datum.value, 'target') >= 0 ? '#ff7f0e' : '#1f77b4'"},
           "fillOpacity": {"signal": "indexof(datum.value, 'distr') >= 0 ? (indexof(datum.value, 'target') >= 0 ? 0.4 : 0.2) : 0"},
           "strokeDash": {"signal": "indexof(datum.value, 'EE') == 0 ? [9,2.5,1.5,2.5] : (indexof(datum.value, '⁹⁵') >= 0 ? [6,2.5] : (indexof(datum.value, '⁷⁵') >= 0 ? [1.5,2.5] : [1,0]))"},
           "opacity": {"value": 1}
         }}}}},
       "strokeDash": {"field": "s", "type": "nominal", "scale": {"domain": ["EE₆ₘ (target)","PFE⁰·⁹⁵₆ₘ (target)","PFE⁰·⁹⁷⁵₆ₘ (target)","EE₆ₘ (pred.)","PFE⁰·⁹⁵₆ₘ (pred.)","PFE⁰·⁹⁷⁵₆ₘ (pred.)"], "range": [[12,3,2,3],[7,3],[2,3],[12,3,2,3],[7,3],[2,3]]}, "legend": null}
      }}
    ]
   },
   {
    "width": 533, "height": 395,
    "title": {"text": ["(d) Market observables {S(T₁), c₁,₁(T₁),", "c₁,₃(T₁), c₁,₁₂(T₁)}. Relative deviation of", "EE₆ₘ is −1.059%, PFE⁰·⁹⁵₆ₘ is −0.767%,", "PFE⁰·⁹⁷⁵₆ₘ is −0.390%."], "orient": "bottom", "anchor": "start", "frame": "group", "dx": -43, "offset": 24, "font": "DejaVu Serif", "fontSize": 27, "fontWeight": "normal", "lineHeight": 38.7, "color": "#000"},
    "layer": [
     {"data": {"name": "dens"}, "mark": {"type": "area", "fill": "#ff7f0e", "fillOpacity": 0.4, "stroke": "#ff7f0e", "strokeWidth": 1.5, "interpolate": "monotone"},
      "encoding": {
       "x": {"field": "x", "type": "quantitative", "scale": {"domain": [-0.0162, 0.3425], "nice": false, "zero": false}, "axis": {"title": "Exposure", "values": [0,0.05,0.1,0.15,0.2,0.25,0.3], "format": ".2f", "labelFontSize": 13, "titleFontSize": 13.5, "tickSize": 4.5, "labelPadding": 3, "titlePadding": 5, "grid": false}},
       "y": {"field": "t", "type": "quantitative", "scale": {"domain": [0, 18.38], "nice": false}, "axis": {"title": "Density", "values": [0,2.5,5,7.5,10,12.5,15,17.5], "format": ".1f", "labelFontSize": 13, "titleFontSize": 13.5, "tickSize": 4.5, "labelPadding": 3, "titlePadding": 8, "grid": false}}
      }},
     {"data": {"name": "dens"}, "mark": {"type": "area", "fill": "#1f77b4", "fillOpacity": 0.2, "stroke": "#1f77b4", "strokeWidth": 1.5, "interpolate": "monotone"},
      "encoding": {"x": {"field": "x", "type": "quantitative"}, "y": {"field": "p", "type": "quantitative"}}},
     {"data": {"name": "vl"}, "mark": {"type": "rule", "strokeWidth": 1.8},
      "encoding": {
       "x": {"field": "x", "type": "quantitative"},
       "color": {"field": "s", "type": "nominal", "scale": {"domain": ["EE₆ₘ (target)","PFE⁰·⁹⁵₆ₘ (target)","PFE⁰·⁹⁷⁵₆ₘ (target)","EE₆ₘ (pred.)","PFE⁰·⁹⁵₆ₘ (pred.)","PFE⁰·⁹⁷⁵₆ₘ (pred.)","target distr.","predicted distr."], "range": ["#ff7f0e","#ff7f0e","#ff7f0e","#1f77b4","#1f77b4","#1f77b4","#ff7f0e","#1f77b4"]},
        "legend": {"title": null, "orient": "top-right", "offset": 5, "padding": 5, "fillColor": "white", "strokeColor": "#d0d0d0", "cornerRadius": 3, "labelFontSize": 13.2, "symbolSize": 196, "symbolStrokeWidth": 1.5, "symbolOffset": 7, "labelOffset": 16, "rowPadding": 7,
         "encode": {"symbols": {"update": {
           "shape": {"signal": "indexof(datum.value, 'distr') >= 0 ? 'M-2,-0.8H2V0.8H-2Z' : 'M-2,0H2'"},
           "stroke": {"signal": "indexof(datum.value, 'target') >= 0 ? '#ff7f0e' : '#1f77b4'"},
           "fill": {"signal": "indexof(datum.value, 'target') >= 0 ? '#ff7f0e' : '#1f77b4'"},
           "fillOpacity": {"signal": "indexof(datum.value, 'distr') >= 0 ? (indexof(datum.value, 'target') >= 0 ? 0.4 : 0.2) : 0"},
           "strokeDash": {"signal": "indexof(datum.value, 'EE') == 0 ? [9,2.5,1.5,2.5] : (indexof(datum.value, '⁹⁵') >= 0 ? [6,2.5] : (indexof(datum.value, '⁷⁵') >= 0 ? [1.5,2.5] : [1,0]))"},
           "opacity": {"value": 1}
         }}}}},
       "strokeDash": {"field": "s", "type": "nominal", "scale": {"domain": ["EE₆ₘ (target)","PFE⁰·⁹⁵₆ₘ (target)","PFE⁰·⁹⁷⁵₆ₘ (target)","EE₆ₘ (pred.)","PFE⁰·⁹⁵₆ₘ (pred.)","PFE⁰·⁹⁷⁵₆ₘ (pred.)"], "range": [[12,3,2,3],[7,3],[2,3],[12,3,2,3],[7,3],[2,3]]}, "legend": null}
      }}
    ]
   }
  ]
 }
]
}
